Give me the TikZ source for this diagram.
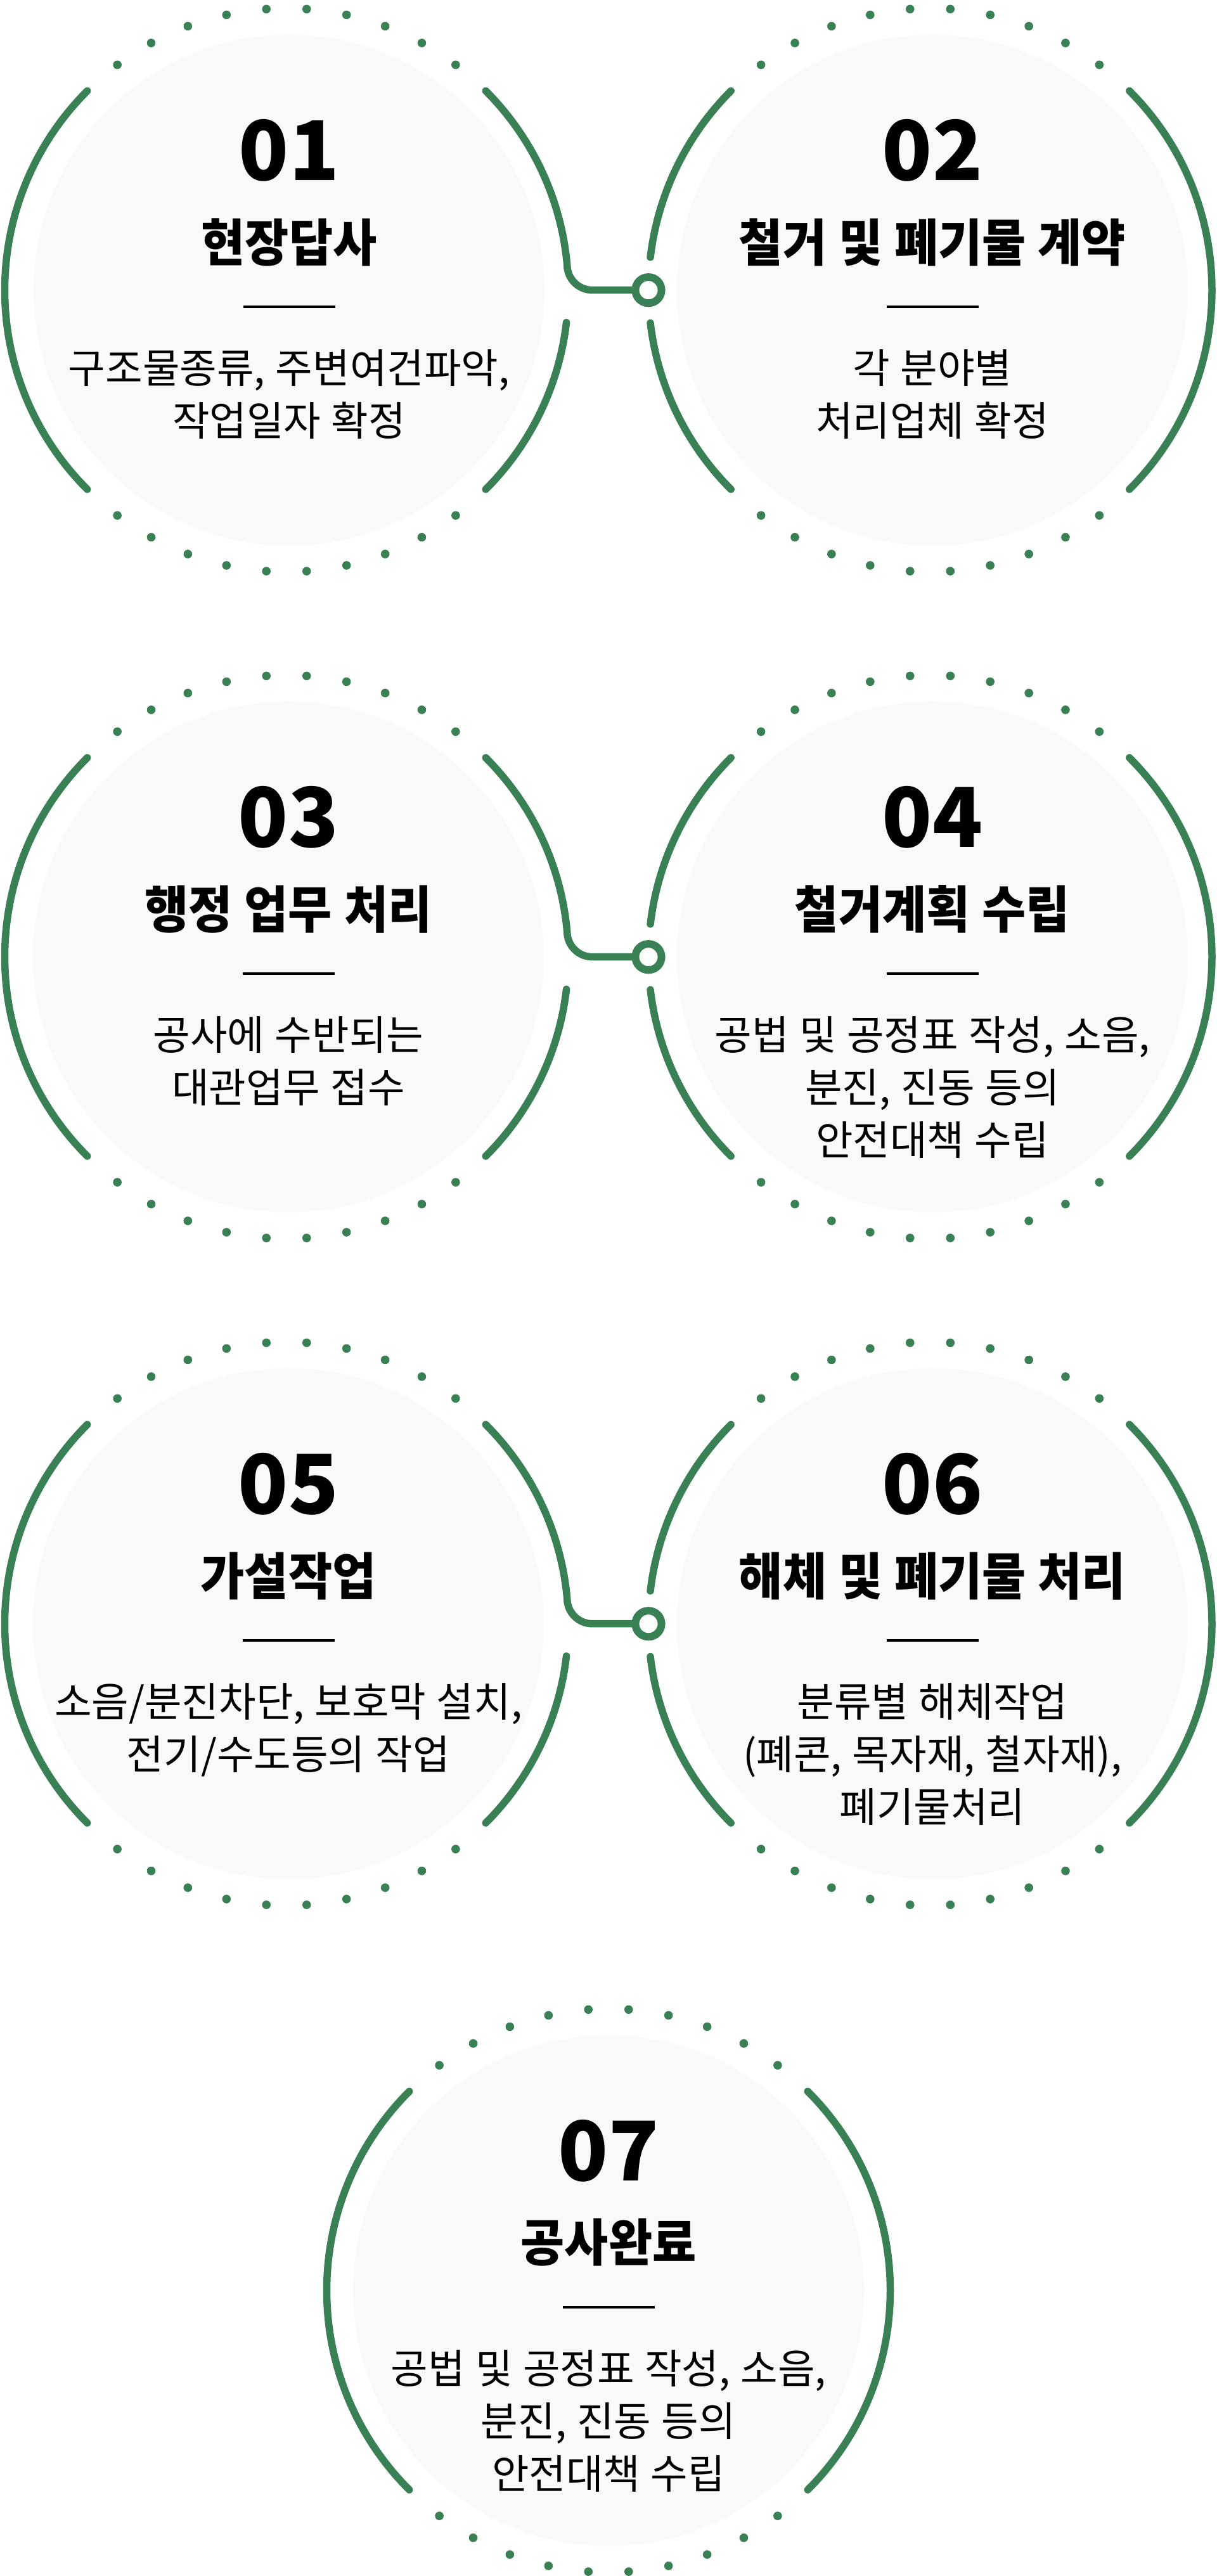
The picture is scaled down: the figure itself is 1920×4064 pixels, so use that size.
\documentclass[tikz,border=0pt]{standalone}
\usepackage{fontspec}
\newfontfamily\krnum{Noto Sans CJK KR}
\newfontfamily\krtitle{Noto Sans CJK KR}[FakeStretch=0.94,WordSpace=1.1]
\newfontfamily\krbody{Noto Sans CJK KR}[FakeStretch=0.995,WordSpace=1.15]
\definecolor{grn}{RGB}{58,128,85}
\definecolor{discgray}{RGB}{249,249,249}
\tikzset{
  arcst/.style={draw=grn, line width=5.75pt, line cap=round},
  disc/.style={circle, fill=discgray, minimum size=403pt, inner sep=0pt},
  numtxt/.style={font=\krnum\bfseries\fontsize{65pt}{65pt}\selectfont, inner sep=0pt, anchor=south},
  titletxt/.style={font=\krtitle\bfseries\fontsize{40pt}{48pt}\selectfont, inner sep=0pt, anchor=north},
  bodytxt/.style={font=\krbody\fontsize{32pt}{41.5pt}\selectfont, inner sep=0pt, anchor=north, align=center},
  rulest/.style={draw=black, line width=2pt},
  ringst/.style={circle, draw=grn, line width=6pt, fill=white, minimum size=20.6pt, inner sep=0pt},
}
\newcommand{\StepBlock}[6]{%
  \node[disc] (#1) at (#2,#3) {};
  \node[numtxt] (#1-num) at ([yshift=85.35pt]#1.center) {#4};
  \node[titletxt] (#1-title) at ([yshift=56.85pt]#1.center) {#5};
  \draw[rulest] ([xshift=-36.25pt,yshift=-13.15pt]#1.center) coordinate (#1-rl) -- ([xshift=36.25pt,yshift=-13.15pt]#1.center) coordinate (#1-rr);
  \node[bodytxt] (#1-body) at ([yshift=-46.65pt]#1.center) {#6};
}
\newcommand{\DotsAround}[2]{%
  \foreach \k in {0,...,4}{%
    \pgfmathsetmacro{\dA}{94.1+8.2*\k}%
    \pgfmathsetmacro{\dB}{85.9-8.2*\k}%
    \pgfmathsetmacro{\dC}{274.1+8.2*\k}%
    \pgfmathsetmacro{\dD}{265.9-8.2*\k}%
    \fill[grn] (#1,#2) ++(\dA:444.5) circle (6.8);
    \fill[grn] (#1,#2) ++(\dB:444.5) circle (6.8);
    \fill[grn] (#1,#2) ++(\dC:444.5) circle (6.8);
    \fill[grn] (#1,#2) ++(\dD:444.5) circle (6.8);
  }}
\newcommand{\ArcPart}[4]{\draw[arcst] (#1,#2) ++(#3:444.5) arc[start angle=#3,end angle=#4,radius=444.5];}
\newcommand{\LeftRing}[1]{%
  \ArcPart{452}{#1}{135}{225}
  \ArcPart{452}{#1}{-6.6}{-45}
  \DotsAround{452}{#1}}
\newcommand{\RightRing}[1]{%
  \ArcPart{1467.5}{#1}{45}{-45}
  \ArcPart{1467.5}{#1}{135}{173.3}
  \ArcPart{1467.5}{#1}{186.7}{225}
  \DotsAround{1467.5}{#1}}
\newcommand{\ConnRow}[2]{%
  \node[ringst] (#2) at (1023,#1) {};
  \draw[arcst] (452,#1) ++(45:444.5) arc[start angle=45,end angle=5.16,radius=444.5]
    .. controls (894.7,#1+17.9) and (912.6,#1) .. (934.7,#1) -- (#2.west);
}
\begin{document}
\begin{tikzpicture}[x=0.5pt,y=0.5pt]
\useasboundingbox (0,0) rectangle (1920,-4064);
\fill[white] (0,0) rectangle (1920,-4064);

\StepBlock{s1}{456}{-457.7}{01}{현장답사}{구조물종류, 주변여건파악,\\작업일자 확정}
\StepBlock{s2}{1471}{-457.7}{02}{철거 및 폐기물 계약}{각 분야별\\처리업체 확정}
\StepBlock{s3}{455}{-1509.7}{03}{행정 업무 처리}{공사에 수반되는\\대관업무 접수}
\StepBlock{s4}{1471}{-1509.7}{04}{철거계획 수립}{공법 및 공정표 작성, 소음,\\분진, 진동 등의\\안전대책 수립}
\StepBlock{s5}{455}{-2561.7}{05}{가설작업}{소음/분진차단, 보호막 설치,\\전기/수도등의 작업}
\StepBlock{s6}{1471}{-2561.7}{06}{해체 및 폐기물 처리}{분류별 해체작업\\(폐콘, 목자재, 철자재),\\폐기물처리}
\StepBlock{s7}{960}{-3613.7}{07}{공사완료}{공법 및 공정표 작성, 소음,\\분진, 진동 등의\\안전대책 수립}

\LeftRing{-457.7}
\RightRing{-457.7}
\ConnRow{-457.7}{k1}

\LeftRing{-1509.7}
\RightRing{-1509.7}
\ConnRow{-1509.7}{k2}

\LeftRing{-2561.7}
\RightRing{-2561.7}
\ConnRow{-2561.7}{k3}

\ArcPart{960}{-3613.7}{135}{225}
\ArcPart{960}{-3613.7}{45}{-45}
\DotsAround{960}{-3613.7}
\end{tikzpicture}
\end{document}
